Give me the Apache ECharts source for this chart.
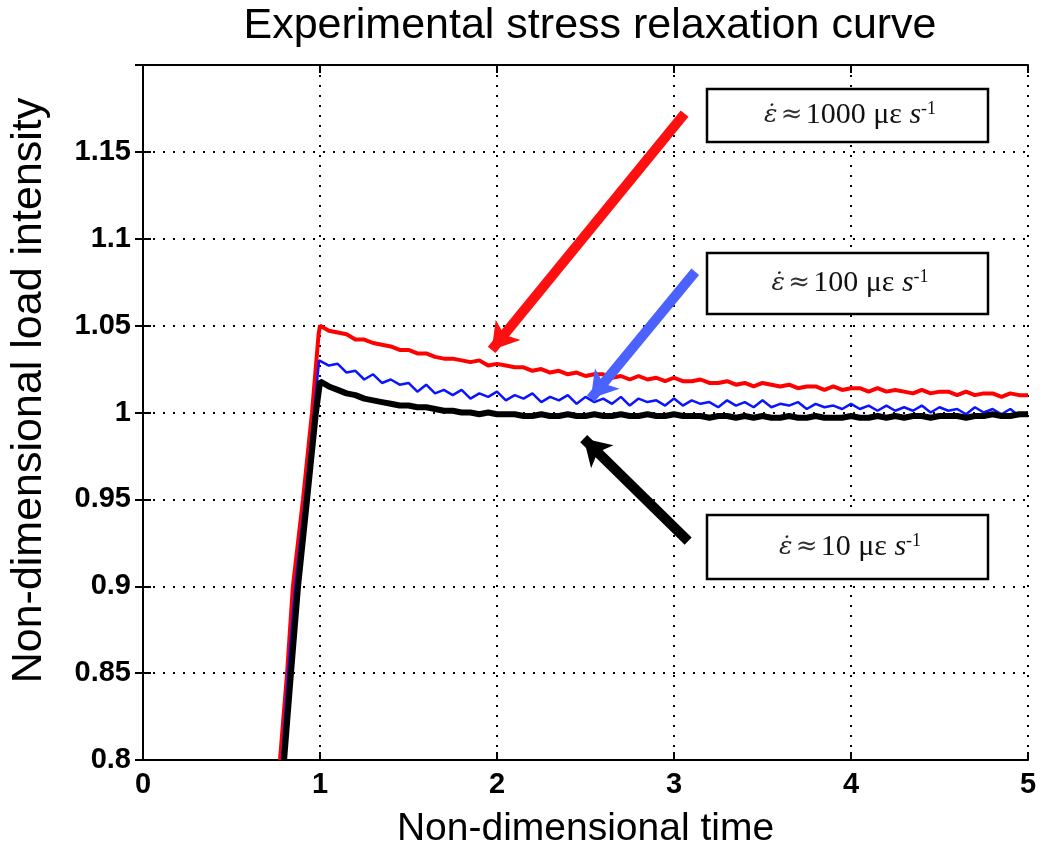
<!DOCTYPE html>
<html>
<head>
<meta charset="utf-8">
<script src="https://cdn.jsdelivr.net/npm/echarts@6/dist/echarts.min.js"></script>
<style>html,body{margin:0;padding:0;background:#fff;}#c{width:1050px;height:855px;}</style>
</head>
<body>
<div id="c"></div>
<script>
const titleText = 'Experimental stress relaxation curve';
const xName = 'Non-dimensional time';
const yName = 'Non-dimensional load intensity';
const xTicks = [0, 1, 2, 3, 4, 5];
const yTicks = [0.8, 0.85, 0.9, 0.95, 1, 1.05, 1.1, 1.15];

const tDecay = [
1.00,1.05,1.10,1.15,1.20,1.25,1.30,1.35,1.40,1.45,
1.50,1.55,1.60,1.65,1.70,1.75,1.80,1.85,1.90,1.95,
2.00,2.05,2.10,2.15,2.20,2.25,2.30,2.35,2.40,2.45,
2.50,2.55,2.60,2.65,2.70,2.75,2.80,2.85,2.90,2.95,
3.00,3.05,3.10,3.15,3.20,3.25,3.30,3.35,3.40,3.45,
3.50,3.55,3.60,3.65,3.70,3.75,3.80,3.85,3.90,3.95,
4.00,4.05,4.10,4.15,4.20,4.25,4.30,4.35,4.40,4.45,
4.50,4.55,4.60,4.65,4.70,4.75,4.80,4.85,4.90,4.95,
5.00];

const redRiseT = [0.774,0.814,0.847,0.904,0.955,0.992];
const redRiseY = [0.80,0.85,0.90,0.95,1.00,1.045];
const redDecay = [
1.050,1.047,1.046,1.045,1.042,1.042,1.040,1.039,1.038,1.036,
1.036,1.034,1.034,1.032,1.031,1.031,1.030,1.029,1.030,1.027,
1.028,1.027,1.026,1.026,1.024,1.025,1.023,1.024,1.022,1.023,
1.021,1.022,1.022,1.020,1.021,1.019,1.021,1.019,1.020,1.018,
1.020,1.018,1.018,1.019,1.017,1.017,1.018,1.016,1.017,1.015,
1.017,1.016,1.015,1.016,1.014,1.015,1.015,1.013,1.015,1.013,
1.014,1.014,1.012,1.014,1.012,1.013,1.012,1.011,1.013,1.011,
1.012,1.012,1.010,1.012,1.010,1.011,1.011,1.009,1.011,1.010,
1.010];

const blueRiseT = [0.785,0.820,0.860,0.915,0.966,0.995];
const blueRiseY = [0.80,0.85,0.90,0.95,1.00,1.030];
const blueDecay = [
1.031,1.027,1.028,1.023,1.024,1.019,1.022,1.017,1.019,1.016,
1.017,1.012,1.016,1.011,1.013,1.010,1.013,1.008,1.011,1.009,
1.012,1.007,1.010,1.008,1.011,1.006,1.009,1.007,1.010,1.005,
1.009,1.006,1.008,1.005,1.009,1.004,1.008,1.006,1.007,1.004,
1.008,1.004,1.007,1.005,1.006,1.003,1.007,1.004,1.006,1.003,
1.007,1.003,1.005,1.004,1.006,1.002,1.005,1.003,1.004,1.002,
1.005,1.002,1.004,1.001,1.004,1.001,1.003,1.001,1.004,1.000,
1.003,1.001,1.002,0.999,1.003,1.000,1.002,0.999,1.002,0.998,
1.000];

const blackRiseT = [0.797,0.836,0.876,0.927,0.977,0.998];
const blackRiseY = [0.80,0.85,0.90,0.95,1.00,1.016];
const blackDecay = [
1.018,1.015,1.013,1.011,1.010,1.008,1.007,1.006,1.005,1.004,
1.004,1.003,1.003,1.002,1.001,1.001,1.000,1.000,0.999,1.000,
0.999,0.999,0.999,0.998,0.998,0.999,0.998,0.998,0.999,0.998,
0.998,0.999,0.998,0.998,0.999,0.998,0.998,0.999,0.998,0.998,
0.999,0.998,0.998,0.998,0.997,0.998,0.998,0.997,0.998,0.997,
0.998,0.997,0.997,0.998,0.997,0.997,0.998,0.997,0.997,0.997,
0.998,0.997,0.997,0.998,0.997,0.998,0.997,0.998,0.998,0.997,
0.998,0.998,0.998,0.997,0.998,0.998,0.999,0.998,0.998,0.999,
0.999];

// arrows: [startT, startY, tipT, tipY]
const redArrow = [3.06, 1.172, 1.97, 1.036];
const blueArrow = [3.12, 1.081, 2.53, 1.008];
const blackArrow = [3.08, 0.926, 2.49, 0.985];

const labelRates = ['1000', '100', '10'];

function pairs(rt, ry, dt, dy) {
  const out = [];
  for (let i = 0; i < rt.length; i++) out.push([rt[i], ry[i]]);
  for (let i = 0; i < dt.length; i++) out.push([dt[i], dy[i]]);
  return out;
}
function arrowLine(a, color) {
  return {
    silent: true,
    animation: false,
    symbol: ['none', 'arrow'],
    symbolSize: [24, 26],
    label: { show: false },
    lineStyle: { color: color, width: 10, type: 'solid' },
    data: [[{ coord: [a[0], a[1]] }, { coord: [a[2], a[3]] }]]
  };
}

const chart = echarts.init(document.getElementById('c'), null, { renderer: 'canvas' });
const FONT = '"Liberation Sans", Arial, sans-serif';
const SERIF = '"Liberation Serif", "DejaVu Serif", serif';

function box(y, h, rate) {
  return {
    type: 'group',
    children: [
      { type: 'rect', shape: { x: 707, y: y, width: 281, height: h },
        style: { fill: '#fff', stroke: '#000', lineWidth: 2.5 }, z: 100 },
      { type: 'text', x: 850, y: y + h / 2, z: 101,
        style: {
          text: '{e|ε̇} {ap|≈} {n|' + rate + ' με }{s|s}{sup|-1}',
          align: 'center', verticalAlign: 'middle',
          rich: {
            e: { fontFamily: '"DejaVu Serif", serif', fontSize: 25, fontStyle: 'italic', fill: '#222' },
            ap: { fontFamily: '"DejaVu Serif", serif', fontSize: 26, fill: '#333' },
            n: { fontFamily: SERIF, fontSize: 30, fill: '#111' },
            s: { fontFamily: SERIF, fontSize: 30, fontStyle: 'italic', fill: '#111' },
            sup: { fontFamily: SERIF, fontSize: 18, fill: '#111', verticalAlign: 'top' }
          }
        } }
    ]
  };
}

const option = {
  animation: false,
  backgroundColor: '#fff',
  title: {
    text: titleText, left: 585, top: 0, textAlign: 'center',
    textStyle: { fontFamily: FONT, fontSize: 43, fontWeight: 'normal', color: '#000' }
  },
  grid: { left: 143, right: 22, top: 65, bottom: 95 },
  xAxis: [{
    type: 'value', min: 0, max: 5, interval: 1,
    name: xName, nameLocation: 'middle', nameGap: 50,
    nameTextStyle: { fontFamily: FONT, fontSize: 39, color: '#000' },
    axisLine: { show: true, lineStyle: { color: '#000', width: 2 } },
    axisTick: { show: true, inside: true, length: 8, lineStyle: { color: '#000', width: 2 } },
    axisLabel: { fontFamily: FONT, fontSize: 29, fontWeight: 'bold', color: '#000', margin: 10 },
    splitLine: { show: true, lineStyle: { color: '#000', width: 2, type: [2, 8] } }
  }, {
    type: 'value', min: 0, max: 5, interval: 1, position: 'top',
    axisLine: { show: true, lineStyle: { color: '#000', width: 2 } },
    axisTick: { show: true, inside: true, length: 8, lineStyle: { color: '#000', width: 2 } },
    axisLabel: { show: false }, splitLine: { show: false }
  }],
  yAxis: [{
    type: 'value', min: 0.8, max: 1.2, interval: 0.05,
    name: yName, nameLocation: 'middle', nameGap: 92,
    nameTextStyle: { fontFamily: FONT, fontSize: 43, color: '#000', padding: [0, 0, 0, 44] },
    axisLine: { show: true, lineStyle: { color: '#000', width: 2 } },
    axisTick: { show: true, inside: true, length: 8, lineStyle: { color: '#000', width: 2 } },
    axisLabel: {
      fontFamily: FONT, fontSize: 29, fontWeight: 'bold', color: '#000', margin: 12,
      formatter: function (v) {
        const r = Math.round(v * 100) / 100;
        return yTicks.indexOf(r) >= 0 ? String(r) : '';
      }
    },
    splitLine: { show: true, lineStyle: { color: '#000', width: 2, type: [2, 8] } }
  }, {
    type: 'value', min: 0.8, max: 1.2, interval: 0.05, position: 'right',
    axisLine: { show: true, lineStyle: { color: '#000', width: 2 } },
    axisTick: { show: true, inside: true, length: 8, lineStyle: { color: '#000', width: 2 } },
    axisLabel: { show: false }, splitLine: { show: false }
  }],
  series: [
    { name: 'red', type: 'line', showSymbol: false, clip: true,
      data: pairs(redRiseT, redRiseY, tDecay, redDecay),
      lineStyle: { color: '#ff0000', width: 4 }, z: 3,
      markLine: arrowLine(redArrow, '#ff1010') },
    { name: 'blue', type: 'line', showSymbol: false, clip: true,
      data: pairs(blueRiseT, blueRiseY, tDecay, blueDecay),
      lineStyle: { color: '#0a14ff', width: 2.5 }, z: 4,
      markLine: arrowLine(blueArrow, '#4b62ff') },
    { name: 'black', type: 'line', showSymbol: false, clip: true,
      data: pairs(blackRiseT, blackRiseY, tDecay, blackDecay),
      lineStyle: { color: '#000000', width: 6 }, z: 5,
      markLine: arrowLine(blackArrow, '#000000') }
  ],
  graphic: [ box(89, 53, labelRates[0]), box(253, 61, labelRates[1]), box(515, 64, labelRates[2]) ]
};
chart.setOption(option);
</script>
</body>
</html>
